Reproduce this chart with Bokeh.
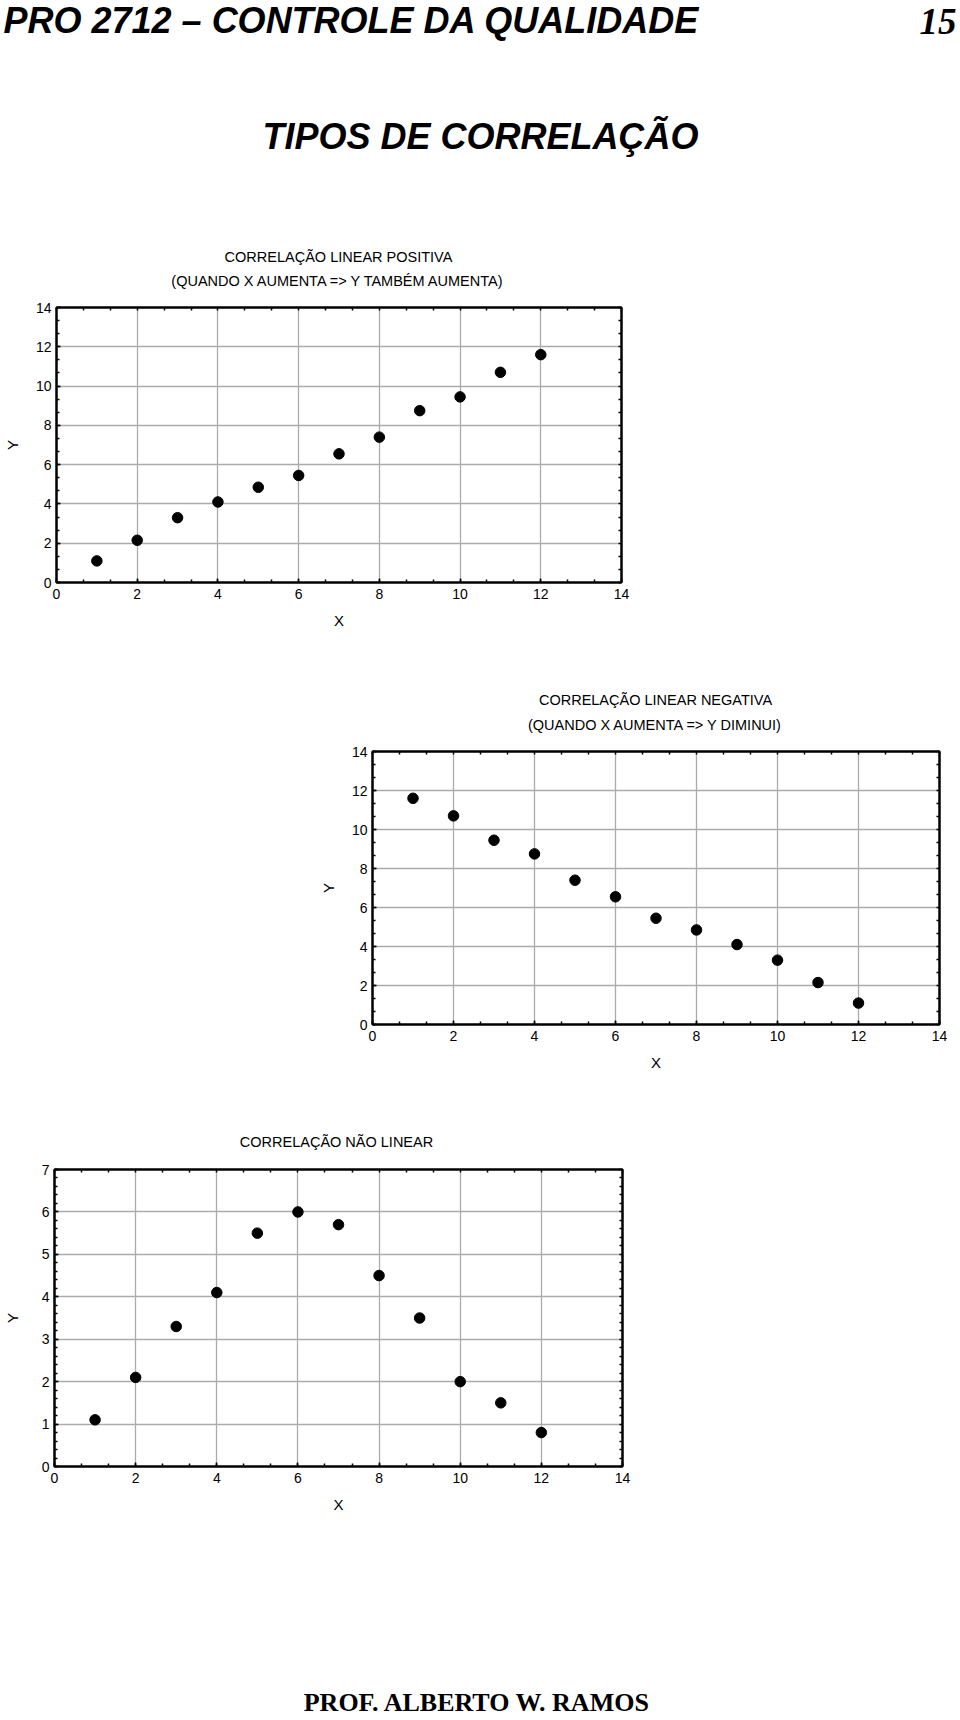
import numpy as np
from bokeh.plotting import figure
from bokeh.layouts import column, row
from bokeh.models import Range1d, SingleIntervalTicker, FixedTicker, LinearAxis, Spacer
from bokeh.core.properties import value
from bokeh.embed import file_html
from bokeh.resources import INLINE

# ---------------- data ----------------
x_values = [1, 2, 3, 4, 5, 6, 7, 8, 9, 10, 11, 12]
y_positive = [1.1, 2.15, 3.3, 4.1, 4.85, 5.45, 6.55, 7.4, 8.75, 9.45, 10.7, 11.6]
y_negative = [11.6, 10.7, 9.45, 8.75, 7.4, 6.55, 5.45, 4.85, 4.1, 3.3, 2.15, 1.1]
y_nonlinear = [1.1, 2.1, 3.3, 4.1, 5.5, 6.0, 5.7, 4.5, 3.5, 2.0, 1.5, 0.8]

header_left = "PRO 2712 \u2013 CONTROLE DA QUALIDADE"
header_page = "15"
page_title = "TIPOS DE CORRELA\u00c7\u00c3O"
title_pos = ["CORRELA\u00c7\u00c3O LINEAR POSITIVA", "(QUANDO X AUMENTA => Y TAMB\u00c9M AUMENTA)"]
title_neg = ["CORRELA\u00c7\u00c3O LINEAR NEGATIVA", "(QUANDO X AUMENTA => Y DIMINUI)"]
title_nl = ["CORRELA\u00c7\u00c3O N\u00c3O LINEAR"]
footer = "PROF.  ALBERTO W. RAMOS"

SANS = value("Liberation Sans")
SERIF = value("Liberation Serif")
W = 960


def strip(h):
    s = figure(width=W, height=h, x_range=Range1d(0, W), y_range=Range1d(h, 0),
               output_backend="svg", toolbar_location=None,
               x_axis_location=None, y_axis_location=None, min_border=0)
    s.outline_line_color = None
    s.grid.visible = False
    return s


def tick_style(ax):
    ax.axis_line_color = "black"
    ax.axis_line_width = 2
    ax.major_tick_in = 4
    ax.major_tick_out = 0
    ax.minor_tick_in = 3
    ax.minor_tick_out = 0
    ax.major_tick_line_color = "black"
    ax.minor_tick_line_color = "black"
    ax.major_tick_line_width = 1.5
    ax.minor_tick_line_width = 1.5


def chart(xs, ys, y_max, y_int, y_minor, left, top, fw, fh, bottom, ylab_standoff):
    p = figure(width=left + fw + 24, height=top + fh + bottom,
               x_range=Range1d(0, 14), y_range=Range1d(0, y_max),
               output_backend="svg", toolbar_location=None,
               min_border_left=left, min_border_right=24,
               min_border_top=top, min_border_bottom=bottom)
    p.outline_line_color = "black"
    p.outline_line_width = 2
    xax = p.xaxis[0]
    yax = p.yaxis[0]
    xax.ticker = SingleIntervalTicker(interval=2, num_minor_ticks=3)
    yax.ticker = SingleIntervalTicker(interval=y_int, num_minor_ticks=y_minor)
    for ax, ls in ((xax, 6), (yax, 5)):
        tick_style(ax)
        ax.major_label_text_font = "Liberation Sans"
        ax.major_label_text_font_size = "14px"
        ax.major_label_text_color = "black"
        ax.major_label_standoff = ls
    xax.axis_label = "X"
    yax.axis_label = "Y"
    for ax, so in ((xax, 10), (yax, ylab_standoff)):
        ax.axis_label_text_font = "Liberation Sans"
        ax.axis_label_text_font_size = "15px"
        ax.axis_label_text_font_style = "normal"
        ax.axis_label_text_color = "black"
        ax.axis_label_standoff = so
    # tick-only frame sides (top / right), no labels
    top_ticks = list(np.arange(0, 14.001, 2 / 3))
    right_ticks = list(np.arange(0, y_max + 0.001, y_int / y_minor))
    top_ax = LinearAxis(ticker=FixedTicker(ticks=[], minor_ticks=top_ticks))
    right_ax = LinearAxis(ticker=FixedTicker(ticks=[], minor_ticks=right_ticks))
    for ax in (top_ax, right_ax):
        tick_style(ax)
    p.add_layout(top_ax, "above")
    p.add_layout(right_ax, "right")
    p.xgrid.ticker = SingleIntervalTicker(interval=2)
    p.ygrid.ticker = SingleIntervalTicker(interval=y_int)
    p.grid.grid_line_color = "#ababab"
    p.grid.grid_line_width = 1.3
    p.scatter(xs, ys, size=10.5, color="black", marker="circle")
    return p


# header strip + chart 1 titles (page y 0..300)
s0 = strip(300)
s0.text(x=[3], y=[20], text=[header_left], text_font=SANS, text_font_size="36px",
        text_font_style="bold italic", text_baseline="middle", text_align="left", color="black")
s0.text(x=[956], y=[21], text=[header_page], text_font=SERIF, text_font_size="37px",
        text_font_style="bold italic", text_baseline="middle", text_align="right", color="black")
s0.text(x=[480], y=[136], text=[page_title], text_font=SANS, text_font_size="36px",
        text_font_style="bold italic", text_baseline="middle", text_align="center", color="black")
s0.text(x=[338, 338], y=[256, 280], text=title_pos, text_font=SANS, text_font_size="14.5px",
        text_baseline="middle", text_align="center", color="black")

# chart 1 (page y 300..650)
p1 = chart(x_values, y_positive, 14, 2, 3, 56, 7, 565, 275, 68, 12)

# chart 2 titles (page y 650..740)
s1 = strip(90)
s1.text(x=[655, 655], y=[49, 74], text=title_neg, text_font=SANS, text_font_size="14.5px",
        text_baseline="middle", text_align="center", color="black")

# chart 2 (page y 740..1100), shifted right by a spacer
p2 = chart(x_values, y_negative, 14, 2, 3, 56, 11, 567, 273, 76, 12)

# chart 3 title (page y 1100..1150)
s2 = strip(50)
s2.text(x=[336], y=[41], text=title_nl, text_font=SANS, text_font_size="14.5px",
        text_baseline="middle", text_align="center", color="black")

# chart 3 (page y 1150..1540)
p3 = chart(x_values, y_nonlinear, 7, 1, 5, 51, 19, 571, 297, 74, 18)

# footer (page y 1540..1720)
s3 = strip(180)
s3.text(x=[480], y=[162], text=[footer], text_font=SERIF, text_font_size="26px",
        text_font_style="bold", text_baseline="middle", text_align="center", color="black")

layout = column(
    row(s0), row(p1), row(s1),
    row(Spacer(width=316, height=10), p2),
    row(s2), row(p3), row(s3),
    spacing=0,
)

open("out.html", "w").write(file_html(layout, INLINE))
